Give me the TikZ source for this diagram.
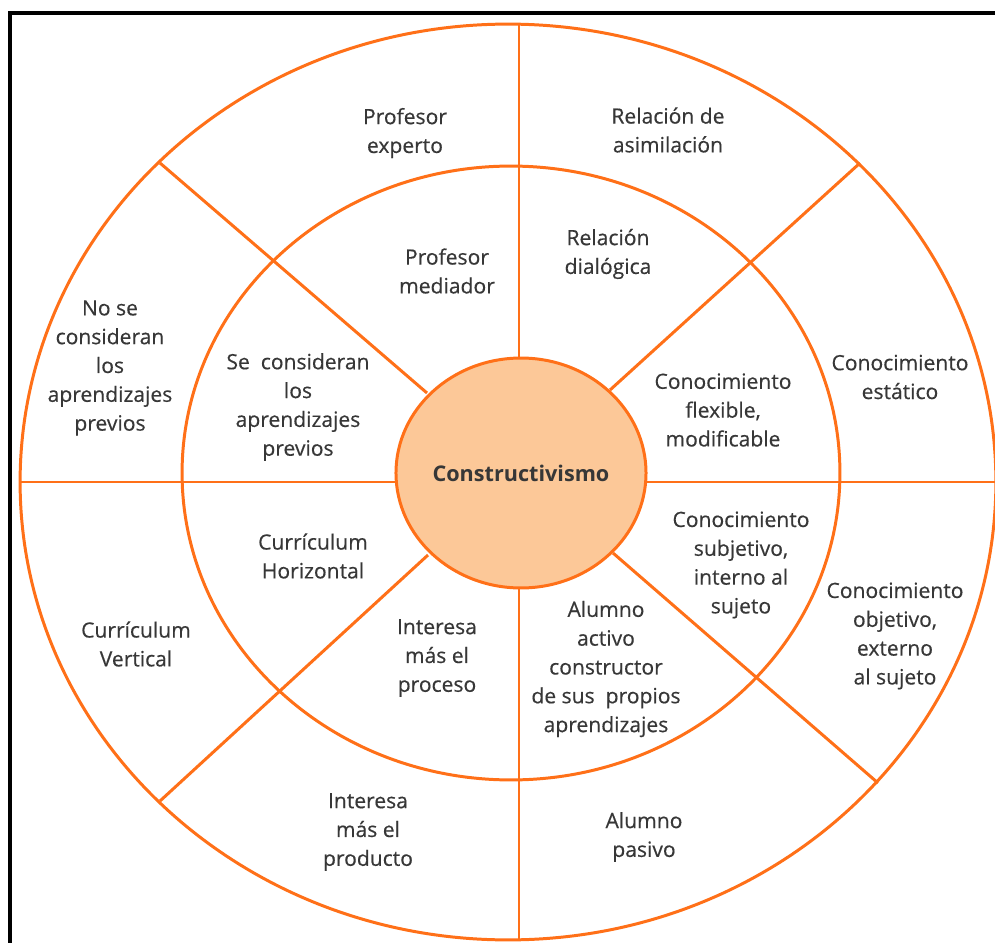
\documentclass[tikz,border=0pt]{standalone}
\usepackage{fontspec}
\setmainfont{Open Sans}
\newfontfamily\lblfont[FakeBold=0.4]{Open Sans}
\usetikzlibrary{shapes.geometric}
\definecolor{orng}{RGB}{255,112,24}
\definecolor{peach}{RGB}{252,200,152}
\definecolor{txt}{RGB}{55,55,55}
\tikzset{
  spoke/.style={draw=orng, line width=1.7pt},
  ring/.style={draw=orng, line width=1.7pt},
  lbl/.style={align=center, text=txt, font=\lblfont\fontsize{12}{16.4}\selectfont, inner sep=0pt},
  core/.style={ellipse, draw=orng, line width=1.7pt, fill=peach, minimum width=4.96cm, minimum height=4.6cm, inner sep=0pt,
    font=\fontsize{12.3}{14}\selectfont\bfseries, text=txt}
}
\begin{document}
\begin{tikzpicture}[x=0.02cm,y=-0.02cm]
\useasboundingbox (0,0) rectangle (995,943);
\clip (0,0) rectangle (995,943);
\fill[white] (0,0) rectangle (995,943);
% frame
\draw[black, line width=1.8pt] (10,13) rectangle (1010,960);
% rings
\draw[ring] (508,482) ellipse [x radius=9.76cm, y radius=9.16cm];
\draw[ring] (511,473) ellipse [x radius=6.58cm, y radius=6.14cm];
% spoke end points
\coordinate (u1) at (519,358); \coordinate (u2) at (519,25);
\coordinate (d1) at (519,588); \coordinate (d2) at (519,940);
\coordinate (l1) at (397,482); \coordinate (l2) at (20,482);
\coordinate (r1) at (643,482); \coordinate (r2) at (1000,482);
\coordinate (tl1) at (427,393); \coordinate (tl2) at (160,163);
\coordinate (tr1) at (610,390); \coordinate (tr2) at (860,163);
\coordinate (br1) at (613,553); \coordinate (br2) at (878,783);
\coordinate (bl1) at (428,555); \coordinate (bl2) at (160,801);
\foreach \a in {u,d,l,r,tl,tr,br,bl} \draw[spoke] (\a1) -- (\a2);
% centre
\node[core] (c) at (521,473) {Constructivismo};
% labels
\node[lbl] (t1) at (405,133) {Profesor\\experto};
\node[lbl] (t2) at (668,130) {Relación de\\asimilación};
\node[lbl] (t3) at (447,271) {Profesor\\mediador};
\node[lbl] (t4) at (608,254) {Relación\\dialógica};
\node[lbl] (t5) at (110,368) {No se\\consideran\\los\\aprendizajes\\previos};
\node[lbl] (t6) at (298,407) {Se~ consideran\\los\\aprendizajes\\previos};
\node[lbl] (t7) at (723,410) {Conocimiento\\flexible,\\modificable};
\node[lbl] (t8) at (900,377) {Conocimiento\\estático};
\node[lbl] (t9) at (313,556) {Currículum\\Horizontal};
\node[lbl] (t10) at (741,565) {Conocimiento\\subjetivo,\\interno al\\sujeto};
\node[lbl] (t11) at (895,636) {Conocimiento\\objetivo,\\externo\\al sujeto};
\node[lbl] (t12) at (136,644) {Currículum\\Vertical};
\node[lbl] (t13) at (437,658) {Interesa\\más el\\proceso};
\node[lbl] (t14) at (606,669) {Alumno\\activo\\constructor\\de sus~ propios\\aprendizajes};
\node[lbl] (t15) at (368,832) {Interesa\\más el\\producto};
\node[lbl] (t16) at (644,837) {Alumno\\pasivo};
\end{tikzpicture}
\end{document}
